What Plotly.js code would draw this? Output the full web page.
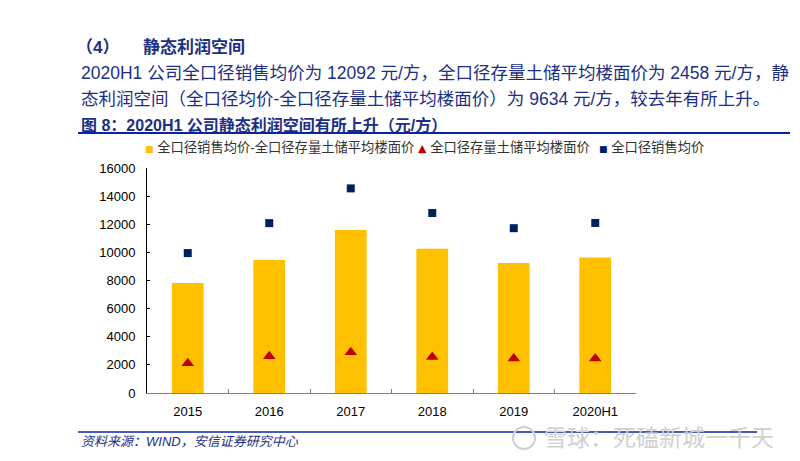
<!DOCTYPE html>
<html>
<head>
<meta charset="utf-8">
<script src="https://cdn.plot.ly/plotly-3.0.1.min.js"></script>
<style>
  html, body { margin: 0; padding: 0; background: #fff; }
  #chart { width: 800px; height: 461px; }
</style>
</head>
<body>
<div id="chart"></div>
<script>
const years = ['2015', '2016', '2017', '2018', '2019', '2020H1'];
// 全口径销售均价-全口径存量土储平均楼面价
const spread = [7820, 9460, 11600, 10250, 9250, 9634];
// 全口径存量土储平均楼面价
const landCost = [2120, 2620, 2900, 2560, 2450, 2458];
// 全口径销售均价
const salePrice = [9950, 12080, 14550, 12800, 11720, 12092];
const yTicks = [0, 2000, 4000, 6000, 8000, 10000, 12000, 14000, 16000];

const FONT = 'Liberation Sans, "Noto Sans CJK SC", sans-serif';
const NAVY = '#1B2F86';

// plot area in page pixels: x 147..636, y 168..393
const L = 147, R = 636, T = 168, B = 393;
const px = x => (x - L) / (R - L);
const py = y => (B - y) / (B - T);

function note(text, x, y, size, color, extra) {
  return Object.assign({
    text: text, xref: 'paper', yref: 'paper', x: px(x), y: py(y),
    xanchor: 'left', yanchor: 'middle', showarrow: false,
    font: { family: FONT, size: size, color: color }
  }, extra || {});
}

function hline(x0, x1, y, width, color) {
  return {
    type: 'line', xref: 'paper', yref: 'paper',
    x0: px(x0), x1: px(x1), y0: py(y), y1: py(y),
    line: { color: color, width: width }
  };
}

const bars = {
  name: '全口径销售均价-全口径存量土储平均楼面价',
  x: years,
  y: spread,
  type: 'bar',
  marker: { color: '#FFC000' }
};

const land = {
  name: '全口径存量土储平均楼面价',
  x: years,
  y: landCost,
  type: 'scatter',
  mode: 'markers',
  marker: { symbol: 'triangle-up', size: 11, color: '#C00000' }
};

const sale = {
  name: '全口径销售均价',
  x: years,
  y: salePrice,
  type: 'scatter',
  mode: 'markers',
  marker: { symbol: 'square', size: 8, color: '#002060' }
};

const glyph = (c, s) => '<span style="color:' + c + ';font-size:' + s + 'px;font-family:DejaVu Sans">' + (s > 9 ? '▲' : '■') + '</span> ';
const bold = (size) => ({ font: { family: FONT, size: size, color: NAVY, weight: 'bold' } });

const annotations = [
  note('（4）', 74, 47, 17, NAVY, bold(17)),
  note('静态利润空间', 141, 47, 17, NAVY, bold(17)),
  note('2020H1 公司全口径销售均价为 12092 元/方，全口径存量土储平均楼面价为 2458 元/方，静', 79, 73, 17.5, NAVY),
  note('态利润空间（全口径均价-全口径存量土储平均楼面价）为 9634 元/方，较去年有所上升。', 79, 99, 17.5, NAVY),
  note('图 8：2020H1 公司静态利润空间有所上升（元/方）', 79, 125, 16, NAVY, bold(16)),
  note(glyph('#FFC000', 9) + '全口径销售均价-全口径存量土储平均楼面价', 143, 147, 13.3, '#333'),
  note(glyph('#C00000', 11) + '全口径存量土储平均楼面价', 416, 147, 13.3, '#333'),
  note(glyph('#002060', 9) + '全口径销售均价', 597, 147, 13.3, '#333'),
  note('资料来源：WIND，安信证券研究中心', 79, 441, 13, NAVY, { font: { family: FONT, size: 13, color: NAVY, style: 'italic' } }),
  note('雪球：死磕新城一千天', 542, 438, 23, '#D0D0D0')
];

const shapes = [
  hline(78, 790, 133, 2, '#0B23A0'),
  hline(78, 757, 432, 1.5, '#0B23A0'),
  {
    type: 'circle', xref: 'paper', yref: 'paper',
    x0: px(513), x1: px(535), y0: py(427), y1: py(449),
    line: { color: '#D0D0D0', width: 2 }
  }
];

const layout = {
  width: 800,
  height: 461,
  margin: { l: L, r: 800 - R, t: T, b: 461 - B },
  paper_bgcolor: '#fff',
  plot_bgcolor: '#fff',
  showlegend: false,
  bargap: 0.61,
  font: { family: FONT, color: '#000' },
  xaxis: {
    type: 'category',
    showline: true,
    linecolor: '#808080',
    linewidth: 1,
    ticks: 'inside',
    tickson: 'boundaries',
    ticklen: 4,
    tickcolor: '#808080',
    showgrid: false,
    zeroline: false,
    ticklabelstandoff: 6,
    tickfont: { family: FONT, size: 13, color: '#000' }
  },
  yaxis: {
    range: [0, 16000],
    tickvals: yTicks,
    ticktext: yTicks.map(String),
    showline: true,
    linecolor: '#000',
    linewidth: 1,
    ticks: 'inside',
    ticklen: 3,
    tickcolor: '#000',
    showgrid: false,
    zeroline: false,
    ticklabelstandoff: 8,
    tickfont: { family: FONT, size: 13, color: '#000' }
  },
  annotations: annotations,
  shapes: shapes
};

Plotly.newPlot('chart', [bars, land, sale], layout, { displayModeBar: false, staticPlot: true });
</script>
</body>
</html>
